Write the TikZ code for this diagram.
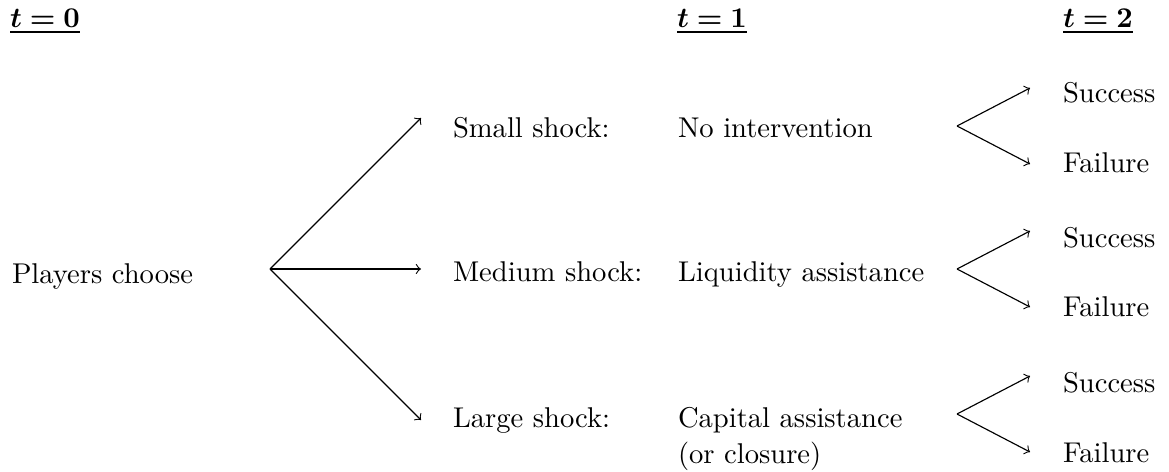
\documentclass[tikz,border=0pt]{standalone}
\usepackage{amsmath}
\newcommand{\hdrtxt}[1]{$\underline{\boldsymbol{t}\mathrel{\boldsymbol{=}}\mathbf{#1}}$}
\begin{document}
\begin{tikzpicture}[x=0.3497pt,y=-0.3497pt,
  lbl/.style={anchor=base west,inner sep=0pt,outer sep=0pt},
  hdr/.style={anchor=base west,inner sep=0pt,outer sep=0pt},
  arr/.style={->,line width=0.4pt}]
\useasboundingbox (0,0) rectangle (1169,472);
% headers
\node[hdr] (h0) at (10,28) {\hdrtxt{0}};
\node[hdr] (h1) at (677,28) {\hdrtxt{1}};
\node[hdr] (h2) at (1063,28) {\hdrtxt{2}};
% root
\node[lbl] (root) at (12,283) {Players choose};
\coordinate (f0) at (270,269);
\coordinate (t1) at (421,118);
\coordinate (t2) at (421,269);
\coordinate (t3) at (421,420);
\draw[arr] (f0) -- (t1);
\draw[arr] (f0) -- (t2);
\draw[arr] (f0) -- (t3);
% shocks
\node[lbl] (s1) at (453,138) {Small shock:};
\node[lbl] (s2) at (453,282) {Medium shock:};
\node[lbl] (s3) at (453,427) {Large shock:};
% interventions
\node[lbl] (i1) at (678,138) {No intervention};
\node[lbl] (i2) at (678,282) {Liquidity assistance};
\node[lbl,align=left,anchor=north west] (i3) at (678,407) {Capital assistance\\[0.8pt](or closure)};
% sub forks
\coordinate (g1) at (957,126);
\coordinate (u1) at (1030,88);
\coordinate (d1) at (1030,164);
\coordinate (g2) at (957,269);
\coordinate (u2) at (1030,231);
\coordinate (d2) at (1030,307);
\coordinate (g3) at (957,414);
\coordinate (u3) at (1030,376);
\coordinate (d3) at (1030,452);
\draw[arr] (g1) -- (u1);
\draw[arr] (g1) -- (d1);
\draw[arr] (g2) -- (u2);
\draw[arr] (g2) -- (d2);
\draw[arr] (g3) -- (u3);
\draw[arr] (g3) -- (d3);
\node[lbl] (succ1) at (1063,103) {Success};
\node[lbl] (fail1) at (1063,173) {Failure};
\node[lbl] (succ2) at (1063,247) {Success};
\node[lbl] (fail2) at (1063,317) {Failure};
\node[lbl] (succ3) at (1063,392) {Success};
\node[lbl] (fail3) at (1063,462) {Failure};
\end{tikzpicture}
\end{document}
